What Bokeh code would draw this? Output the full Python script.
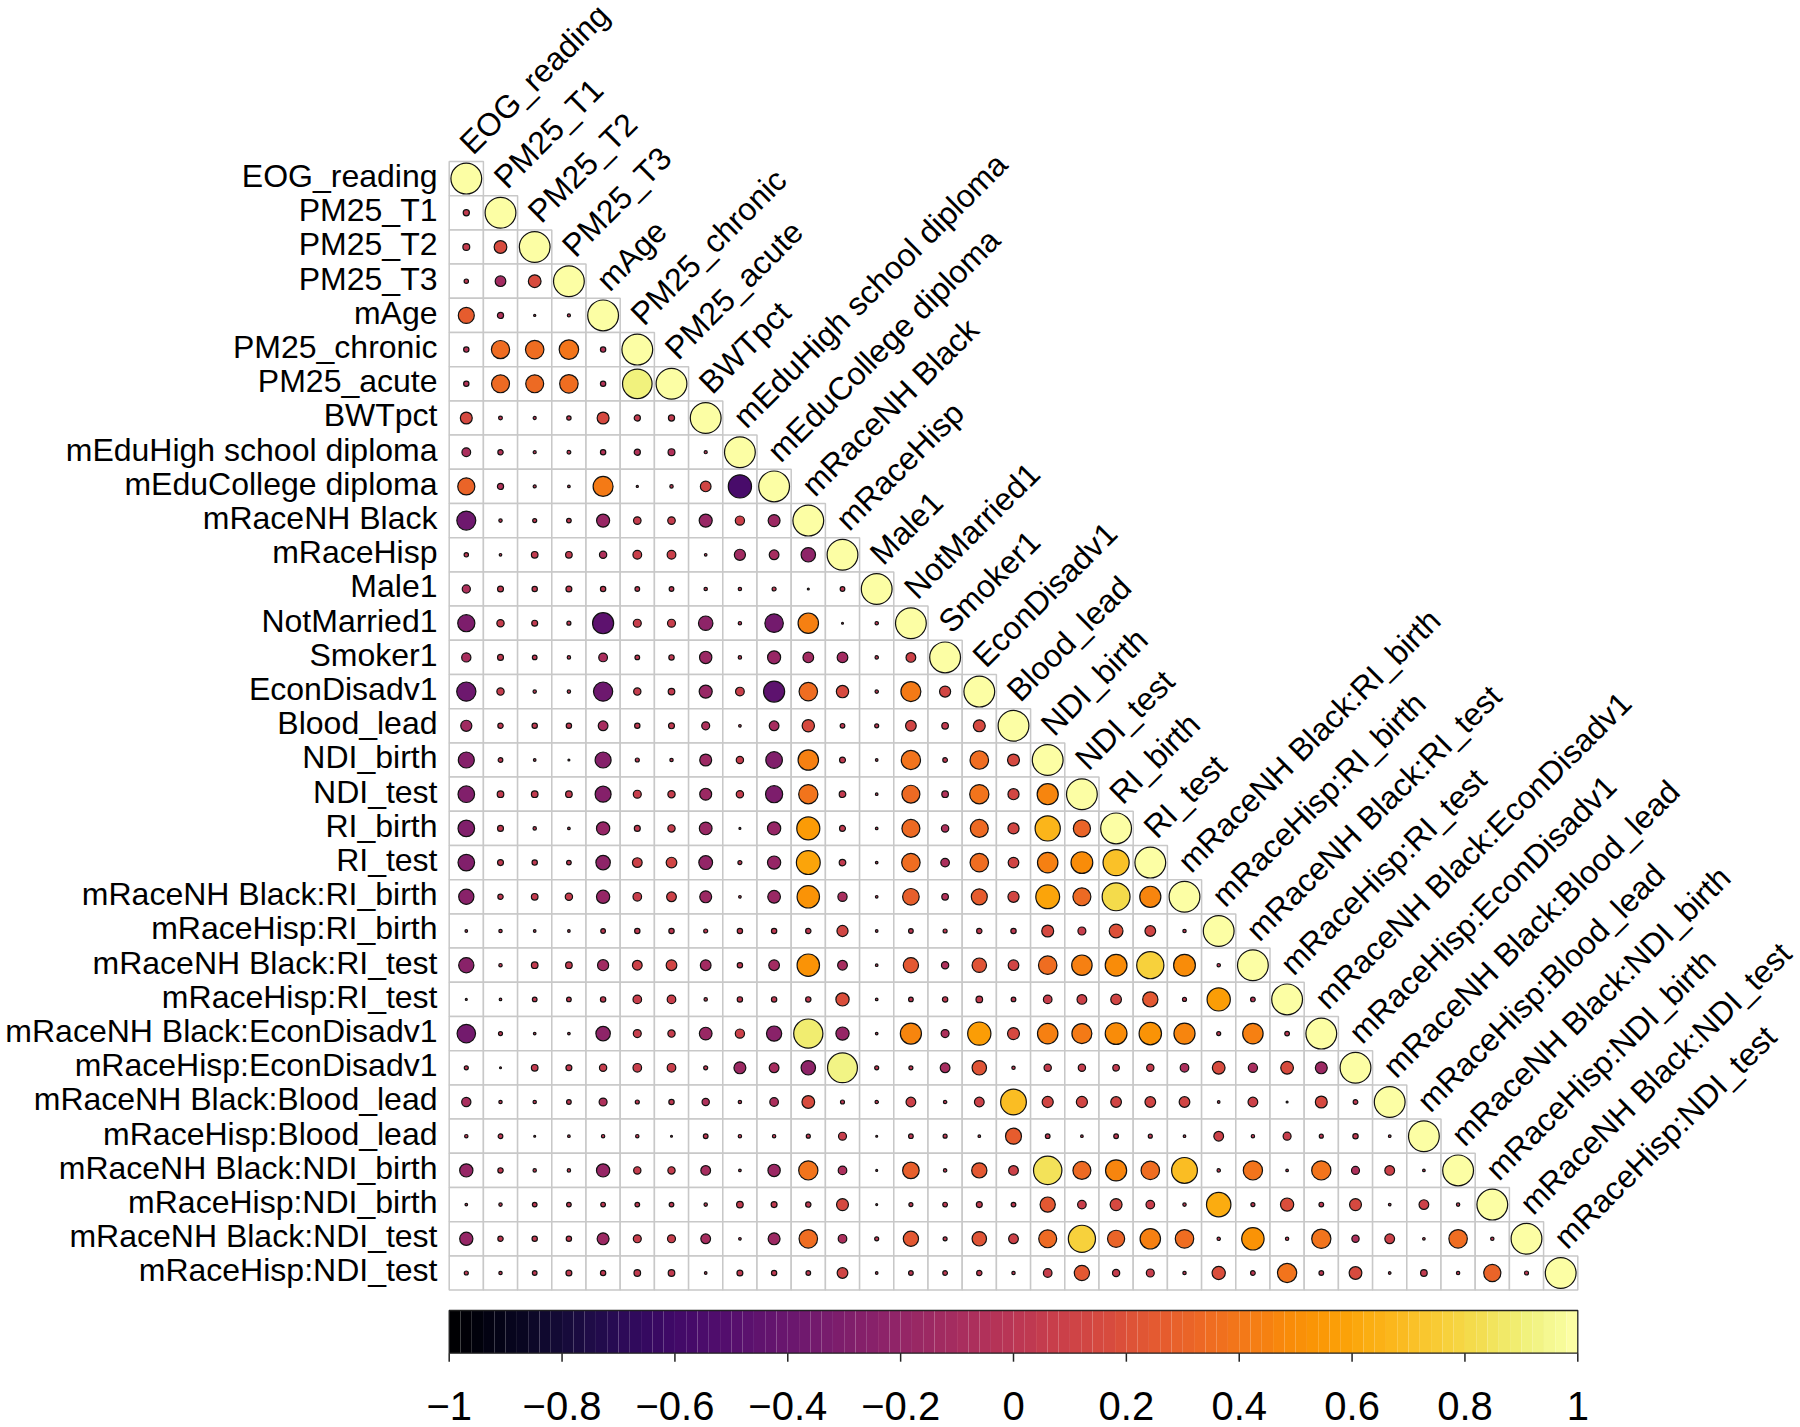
import numpy as np
from bokeh.plotting import figure
from bokeh.models import Range1d, ColumnDataSource
from bokeh.palettes import Inferno256
from bokeh.core.properties import value
from bokeh.embed import file_html
from bokeh.resources import INLINE

labels = [
    "EOG_reading", "PM25_T1", "PM25_T2", "PM25_T3", "mAge", "PM25_chronic",
    "PM25_acute", "BWTpct", "mEduHigh school diploma", "mEduCollege diploma",
    "mRaceNH Black", "mRaceHisp", "Male1", "NotMarried1", "Smoker1",
    "EconDisadv1", "Blood_lead", "NDI_birth", "NDI_test", "RI_birth", "RI_test",
    "mRaceNH Black:RI_birth", "mRaceHisp:RI_birth", "mRaceNH Black:RI_test",
    "mRaceHisp:RI_test", "mRaceNH Black:EconDisadv1", "mRaceHisp:EconDisadv1",
    "mRaceNH Black:Blood_lead", "mRaceHisp:Blood_lead", "mRaceNH Black:NDI_birth",
    "mRaceHisp:NDI_birth", "mRaceNH Black:NDI_test", "mRaceHisp:NDI_test",
]

# lower triangle, row i holds correlations with columns 0..i-1 (diagonal = 1)
corr_rows = [
    [],
    [0.04],
    [0.05, 0.17],
    [0.02, -0.12, 0.17],
    [0.27, -0.04, 0.005, 0.01],
    [-0.03, 0.35, 0.36, 0.40, -0.03],
    [-0.03, 0.34, 0.34, 0.36, -0.03, 0.92],
    [0.15, 0.015, -0.01, 0.02, 0.15, 0.04, 0.04],
    [-0.08, -0.03, -0.01, 0.015, -0.03, -0.04, -0.05, -0.01],
    [0.31, -0.04, -0.01, -0.007, 0.42, 0.005, 0.012, 0.12, -0.57],
    [-0.38, 0.012, 0.017, 0.023, -0.18, 0.06, 0.06, -0.18, 0.09, -0.15],
    [0.02, 0.007, 0.046, 0.046, -0.056, 0.08, 0.08, 0.007, -0.13, -0.10, -0.22],
    [-0.07, 0.037, 0.03, 0.037, 0.03, 0.023, 0.023, 0.012, 0.012, 0.017, 0.004, 0.023],
    [-0.31, 0.056, 0.037, 0.017, -0.47, 0.067, 0.067, -0.22, -0.012, -0.36, 0.44, 0.004, 0.012],
    [-0.09, 0.037, 0.023, 0.012, -0.08, 0.023, 0.03, -0.16, 0.012, -0.18, -0.12, -0.12, 0.012, 0.10],
    [-0.39, 0.056, 0.012, 0.012, -0.39, 0.056, 0.046, -0.18, 0.08, -0.47, 0.36, 0.16, 0.012, 0.42, 0.13],
    [-0.13, 0.03, 0.03, 0.03, -0.10, 0.03, 0.037, -0.067, 0.007, -0.10, 0.16, 0.023, 0.017, 0.12, 0.046, 0.15],
    [-0.27, 0.023, 0.007, 0.004, -0.27, 0.017, 0.012, -0.15, 0.056, -0.29, 0.44, 0.037, 0.007, 0.39, 0.023, 0.36, 0.15],
    [-0.29, 0.046, 0.046, 0.046, -0.27, 0.067, 0.056, -0.15, 0.056, -0.31, 0.39, 0.046, 0.007, 0.34, -0.046, 0.39, 0.13, 0.47],
    [-0.29, 0.037, 0.012, 0.007, -0.185, 0.037, 0.056, -0.17, 0.004, -0.185, 0.56, 0.037, 0.007, 0.34, -0.056, 0.34, 0.13, 0.67, 0.31],
    [-0.29, 0.037, 0.03, 0.023, -0.22, 0.10, 0.12, -0.20, 0.017, -0.185, 0.60, 0.046, 0.007, 0.36, -0.078, 0.36, 0.12, 0.44, 0.50, 0.72],
    [-0.245, 0.03, 0.046, 0.056, -0.185, 0.078, 0.10, -0.15, 0.007, -0.17, 0.53, -0.09, 0.007, 0.29, -0.046, 0.27, 0.13, 0.60, 0.34, 0.82, 0.47],
    [0.007, 0.012, 0.007, 0.007, 0.023, 0.03, 0.03, 0.017, 0.03, 0.03, 0.03, 0.13, 0.007, 0.023, 0.017, 0.03, 0.03, 0.15, 0.067, 0.20, 0.12, 0.012],
    [-0.245, 0.012, 0.046, 0.046, -0.13, 0.10, 0.12, -0.12, 0.03, -0.12, 0.53, -0.10, 0.007, 0.245, -0.056, 0.22, 0.12, 0.36, 0.44, 0.50, 0.78, 0.50, 0.012],
    [0.004, 0.007, 0.023, 0.023, 0.03, 0.078, 0.078, 0.012, 0.03, 0.03, 0.03, 0.185, 0.007, 0.023, 0.03, 0.046, 0.023, 0.078, 0.10, 0.12, 0.245, 0.017, 0.57, -0.023],
    [-0.36, 0.017, 0.007, 0.007, -0.22, 0.067, 0.056, -0.17, 0.09, -0.245, 0.90, -0.185, 0.007, 0.47, -0.067, 0.57, 0.15, 0.44, 0.42, 0.50, 0.53, 0.47, 0.017, 0.44, 0.023],
    [0.017, 0.004, 0.046, 0.037, 0.056, 0.078, 0.078, 0.017, -0.15, -0.10, -0.22, 0.94, 0.017, 0.017, -0.10, 0.22, 0.012, 0.056, 0.056, 0.046, 0.056, -0.078, 0.17, -0.09, 0.17, -0.15],
    [-0.09, 0.012, 0.012, 0.023, -0.067, 0.017, 0.03, -0.056, 0.012, -0.078, 0.17, 0.017, 0.012, 0.10, 0.012, 0.10, 0.70, 0.13, 0.13, 0.12, 0.12, 0.12, 0.007, 0.10, 0.004, 0.15, 0.023],
    [0.012, 0.023, 0.004, 0.007, 0.012, 0.012, 0.004, 0.023, 0.012, 0.012, 0.017, 0.067, 0.004, 0.023, 0.017, 0.007, 0.27, 0.023, 0.007, 0.023, 0.017, 0.007, 0.10, 0.012, 0.067, 0.017, 0.03, 0.007],
    [-0.185, 0.03, 0.012, 0.012, -0.185, 0.056, 0.056, -0.10, 0.007, -0.16, 0.39, -0.078, 0.004, 0.29, 0.012, 0.245, 0.10, 0.85, 0.34, 0.47, 0.36, 0.70, 0.012, 0.39, 0.007, 0.39, -0.067, 0.10, 0.007],
    [0.007, 0.012, 0.023, 0.023, 0.023, 0.023, 0.023, 0.012, 0.046, 0.037, 0.03, 0.15, 0.004, 0.017, 0.023, 0.037, 0.023, 0.245, 0.078, 0.15, 0.078, 0.012, 0.63, 0.017, 0.185, 0.023, 0.15, 0.007, 0.10, 0.012],
    [-0.185, 0.03, 0.03, 0.03, -0.15, 0.067, 0.067, -0.10, 0.007, -0.15, 0.36, -0.078, 0.017, 0.245, 0.017, 0.22, 0.10, 0.34, 0.78, 0.31, 0.44, 0.36, 0.012, 0.53, 0.012, 0.39, -0.056, 0.10, 0.007, 0.36, 0.012],
    [0.017, 0.012, 0.023, 0.037, 0.03, 0.046, 0.046, 0.007, 0.037, 0.03, 0.023, 0.12, 0.007, 0.023, 0.023, 0.03, 0.012, 0.078, 0.245, 0.056, 0.067, 0.012, 0.185, 0.023, 0.39, 0.023, 0.17, 0.007, 0.046, 0.012, 0.31, 0.017],
]

cbar_ticks = [-1, -0.8, -0.6, -0.4, -0.2, 0, 0.2, 0.4, 0.6, 0.8, 1]
cbar_tick_labels = ["\u22121", "\u22120.8", "\u22120.6", "\u22120.4", "\u22120.2", "0",
                    "0.2", "0.4", "0.6", "0.8", "1"]

n = len(labels)
for i, r in enumerate(corr_rows):
    assert len(r) == i, (i, len(r))

def inferno(v):
    idx = int(round((v + 1) / 2 * 255))
    return Inferno256[max(0, min(255, idx))]

FONT = "Liberation Sans"
W, H = 1800, 1427
cell = 34.2
cx0 = 465.8   # px of column 0 centre
cy0 = 178.1   # px of row 0 centre
LAB = 32      # label font px
TCK = 40      # colour-bar label font px
BSHIFT = 0.36  # empirical baseline correction (em)

p = figure(width=W, height=H, output_backend="svg", toolbar_location=None,
           x_range=Range1d(-cx0 / cell, (W - cx0) / cell),
           y_range=Range1d(-(H - cy0) / cell, cy0 / cell),
           x_axis_location=None, y_axis_location=None, min_border=0,
           outline_line_color=None, background_fill_color="white",
           border_fill_color="white")
p.grid.visible = False

# cells and circles
cx, cy, cval = [], [], []
for i in range(n):
    for j in range(i + 1):
        cx.append(j)
        cy.append(-i)
        cval.append(1.0 if i == j else corr_rows[i][j])
src = ColumnDataSource(dict(
    x=cx, y=cy, r=cval,
    rad=[0.45 * np.sqrt(abs(v)) for v in cval],
    color=[inferno(v) for v in cval],
))
p.rect(x="x", y="y", width=1, height=1, source=src, fill_color="white",
       line_color="#c8c8c8", line_width=1.5)
p.circle(x="x", y="y", radius="rad", source=src, fill_color="color",
         line_color="#111111", line_width=1.2)

# row labels
sh = BSHIFT * LAB
p.text(x=[-0.5 - 11.7 / cell] * n, y=[-i + (sh - 9.0) / cell for i in range(n)],
       text=labels, text_align="right", text_baseline="alphabetic",
       text_font=value(FONT), text_font_size=f"{LAB}px", text_color="black")

# column labels (diagonal, rotated 45 degrees)
d = sh * 0.7071
p.text(x=[j - (7.0 + d - 14.0) / cell for j in range(n)],
       y=[-(j - 1) - (12.0 - d) / cell for j in range(n)],
       text=labels, angle=np.pi / 4, text_align="left", text_baseline="alphabetic",
       text_font=value(FONT), text_font_size=f"{LAB}px", text_color="black")

# colour bar
x_left, x_right = -0.5, n - 0.5
y_top = -(1310 - cy0) / cell
y_bot = -(1352.7 - cy0) / cell
nb = 100
edges = np.linspace(x_left, x_right, nb + 1)
mids = np.linspace(-1, 1, nb)
p.quad(left=edges[:-1], right=edges[1:], top=y_top, bottom=y_bot,
       fill_color=[inferno(v) for v in mids], line_color=None)
p.quad(left=[x_left], right=[x_right], top=[y_top], bottom=[y_bot],
       fill_color=None, line_color="#222222", line_width=1.3)
tx = [x_left + (t + 1) / 2 * (x_right - x_left) for t in cbar_ticks]
p.segment(x0=tx, x1=tx, y0=y_bot, y1=y_bot - 8.5 / cell, line_color="#222222",
          line_width=1.5)
p.text(x=tx, y=[-(1420 - BSHIFT * TCK - cy0) / cell] * len(tx), text=cbar_tick_labels,
       text_align="center", text_baseline="alphabetic", text_font=value(FONT),
       text_font_size=f"{TCK}px", text_color="black")

open("out.html", "w").write(file_html(p, INLINE))
